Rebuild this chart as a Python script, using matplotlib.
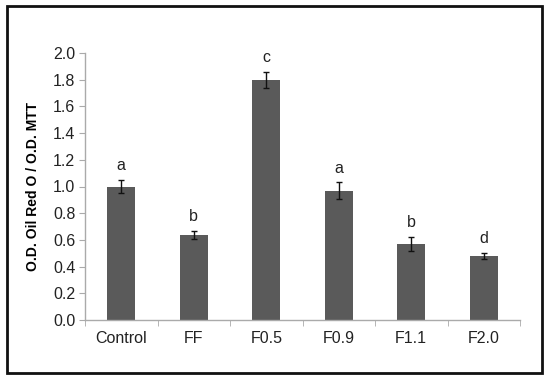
import matplotlib
matplotlib.use("Agg")
import matplotlib.pyplot as plt
from matplotlib.patches import Rectangle

categories = ["Control", "FF", "F0.5", "F0.9", "F1.1", "F2.0"]
values = [1.00, 0.64, 1.80, 0.97, 0.57, 0.48]
errors = [0.05, 0.03, 0.06, 0.06, 0.05, 0.02]
letters = ["a", "b", "c", "a", "b", "d"]
yticks = [0.0, 0.2, 0.4, 0.6, 0.8, 1.0, 1.2, 1.4, 1.6, 1.8, 2.0]

plt.rcParams['font.family'] = ['Liberation Sans', 'DejaVu Sans']

fig = plt.figure(figsize=(5.5, 3.8), dpi=100)
ax = fig.add_axes([85/550, 1-320/380, (520-85)/550, (320-53)/380])

x = list(range(len(categories)))
ax.bar(x, values, width=0.39, color="#5a5a5a", zorder=2)
ax.errorbar(x, values, yerr=errors, fmt='none', ecolor='#111111', elinewidth=1, capsize=2, capthick=1, zorder=3)
for xi, v, e, l in zip(x, values, errors, letters):
    ax.annotate(l, (xi, v + e), xytext=(0, 5), textcoords='offset points', ha='center', va='bottom', fontsize=11.5, color='#222222')

ax.set_xlim(-0.5, len(categories) - 0.5)
ax.set_ylim(0, 2.0)
ax.set_yticks(yticks)
ax.set_yticklabels([f"{t:.1f}" for t in yticks])
ax.set_xticks(x)
ax.set_xticklabels(categories)
ax.set_xticks([i - 0.5 for i in range(len(categories) + 1)], minor=True)
ax.tick_params(axis='x', which='major', length=0, pad=8, labelsize=11.5, labelcolor='#222222')
ax.tick_params(axis='x', which='minor', length=4, color='#aaaaaa', direction='out')
ax.tick_params(axis='y', length=4, color='#aaaaaa', labelsize=11.5, labelcolor='#222222', pad=3)
for s in ['top', 'right']:
    ax.spines[s].set_visible(False)
for s in ['left', 'bottom']:
    ax.spines[s].set_color('#aaaaaa')
    ax.spines[s].set_linewidth(1)
ax.set_ylabel("O.D. Oil Red O / O.D. MTT", fontsize=10, fontweight='bold', labelpad=9)

fig.patches.append(Rectangle((7/550, 1-373/380), (542-7)/550, (373-6)/380, transform=fig.transFigure,
                             fill=False, edgecolor='#111111', linewidth=2))

fig.savefig("out.png", dpi=100)
